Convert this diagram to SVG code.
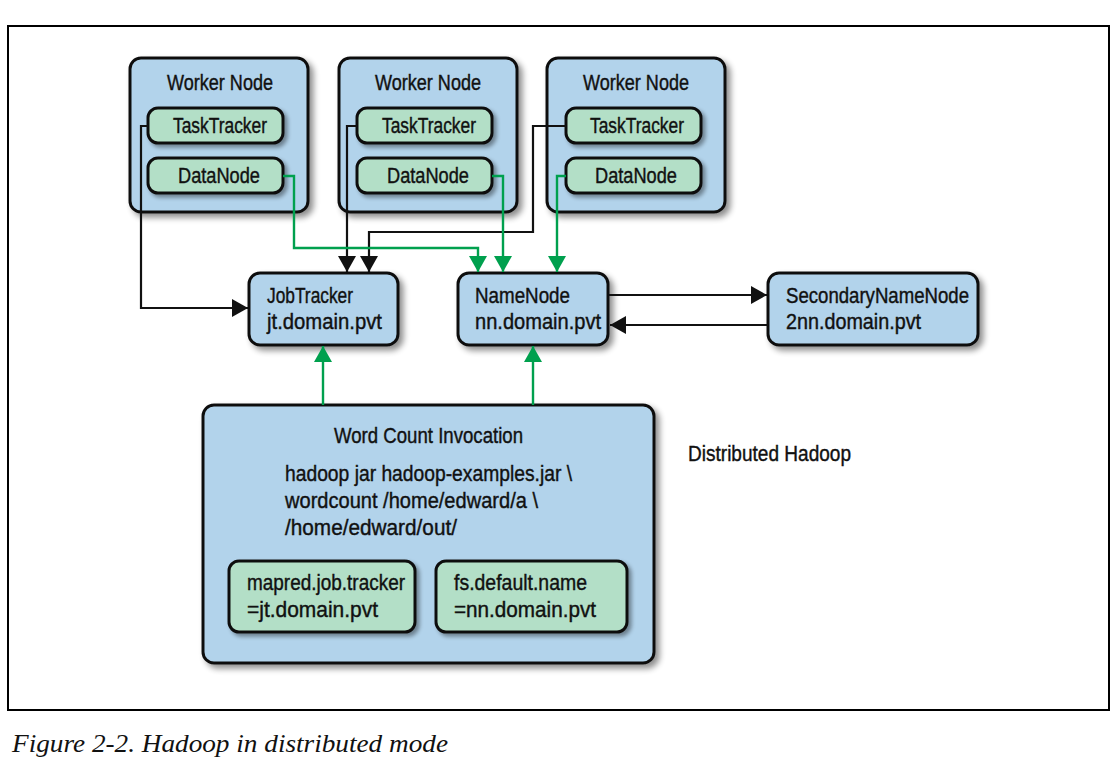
<svg xmlns="http://www.w3.org/2000/svg" width="1117" height="784" viewBox="0 0 1117 784">
<style>
.frame{fill:none;stroke:#000;stroke-width:2}
.blue{fill:#b2d3eb;stroke:#111;stroke-width:3;filter:url(#sh)}
.green{fill:#b3dfc7;stroke:#111;stroke-width:3;filter:url(#sh2)}
.t{font-family:"Liberation Sans",Arial,sans-serif;font-size:22px;fill:#111;stroke:#111;stroke-width:0.4}
.b{stroke:#111;stroke-width:2.2;fill:none}
.g{stroke:#00a04e;stroke-width:2.4;fill:none}
.cap{font-family:"Liberation Serif","Times New Roman",serif;font-style:italic;font-size:25px;fill:#111}
</style>
<defs>
<filter id="sh" x="-10%" y="-10%" width="130%" height="130%">
<feGaussianBlur in="SourceAlpha" stdDeviation="3"/>
<feOffset dx="4" dy="4" result="o"/>
<feComponentTransfer><feFuncA type="linear" slope="0.45"/></feComponentTransfer>
<feMerge><feMergeNode/><feMergeNode in="SourceGraphic"/></feMerge>
</filter>
<filter id="sh2" x="-10%" y="-20%" width="130%" height="150%">
<feGaussianBlur in="SourceAlpha" stdDeviation="2"/>
<feOffset dx="3" dy="3" result="o"/>
<feComponentTransfer><feFuncA type="linear" slope="0.4"/></feComponentTransfer>
<feMerge><feMergeNode/><feMergeNode in="SourceGraphic"/></feMerge>
</filter>
<marker id="ab" markerWidth="17" markerHeight="18" viewBox="0 0 17 18" refX="16" refY="9" orient="auto" markerUnits="userSpaceOnUse">
<path d="M0,0 L16,9 L0,18 Z" fill="#111"/>
</marker>
<marker id="ag" markerWidth="17" markerHeight="18" viewBox="0 0 17 18" refX="16" refY="9" orient="auto" markerUnits="userSpaceOnUse">
<path d="M0,0 L16,9 L0,18 Z" fill="#00a04e"/>
</marker>
</defs>
<rect width="1117" height="784" fill="#fff"/>
<rect class="frame" x="8" y="26" width="1101" height="684"/>

<g id="worker1">
<rect class="blue" x="130" y="58" width="178" height="154" rx="11"/>
<text class="t" x="167" y="90" textLength="106" lengthAdjust="spacingAndGlyphs">Worker Node</text>
<g id="tasktracker1"><rect class="green" x="148" y="108" width="135" height="35" rx="10"/>
<text class="t" x="173" y="133" textLength="94" lengthAdjust="spacingAndGlyphs">TaskTracker</text></g>
<g id="datanode1"><rect class="green" x="148" y="158" width="135" height="35" rx="10"/>
<text class="t" x="178" y="183" textLength="82" lengthAdjust="spacingAndGlyphs">DataNode</text></g>
</g>

<g id="worker2">
<rect class="blue" x="339" y="58" width="178" height="154" rx="11"/>
<text class="t" x="375" y="90" textLength="106" lengthAdjust="spacingAndGlyphs">Worker Node</text>
<g id="tasktracker2"><rect class="green" x="357" y="108" width="135" height="35" rx="10"/>
<text class="t" x="382" y="133" textLength="94" lengthAdjust="spacingAndGlyphs">TaskTracker</text></g>
<g id="datanode2"><rect class="green" x="357" y="158" width="135" height="35" rx="10"/>
<text class="t" x="387" y="183" textLength="82" lengthAdjust="spacingAndGlyphs">DataNode</text></g>
</g>

<g id="worker3">
<rect class="blue" x="547" y="58" width="178" height="154" rx="11"/>
<text class="t" x="583" y="90" textLength="106" lengthAdjust="spacingAndGlyphs">Worker Node</text>
<g id="tasktracker3"><rect class="green" x="566" y="108" width="135" height="35" rx="10"/>
<text class="t" x="590" y="133" textLength="94" lengthAdjust="spacingAndGlyphs">TaskTracker</text></g>
<g id="datanode3"><rect class="green" x="566" y="158" width="135" height="35" rx="10"/>
<text class="t" x="595" y="183" textLength="82" lengthAdjust="spacingAndGlyphs">DataNode</text></g>
</g>

<g id="jobtracker">
<rect class="blue" x="249" y="273" width="149" height="72" rx="11"/>
<text class="t" x="267" y="303" textLength="86" lengthAdjust="spacingAndGlyphs">JobTracker</text>
<text class="t" x="267" y="329" textLength="115" lengthAdjust="spacingAndGlyphs">jt.domain.pvt</text>
</g>

<g id="namenode">
<rect class="blue" x="458" y="273" width="150" height="72" rx="11"/>
<text class="t" x="475" y="303" textLength="95" lengthAdjust="spacingAndGlyphs">NameNode</text>
<text class="t" x="475" y="329" textLength="126" lengthAdjust="spacingAndGlyphs">nn.domain.pvt</text>
</g>

<g id="secondarynamenode">
<rect class="blue" x="768" y="273" width="210" height="72" rx="11"/>
<text class="t" x="786" y="303" textLength="183" lengthAdjust="spacingAndGlyphs">SecondaryNameNode</text>
<text class="t" x="786" y="329" textLength="135" lengthAdjust="spacingAndGlyphs">2nn.domain.pvt</text>
</g>

<g id="wordcount">
<rect class="blue" x="203" y="405" width="451" height="258" rx="11"/>
<text class="t" x="334" y="443" textLength="189" lengthAdjust="spacingAndGlyphs">Word Count Invocation</text>
<text class="t" x="285" y="481" textLength="287" lengthAdjust="spacingAndGlyphs">hadoop jar hadoop-examples.jar \</text>
<text class="t" x="285" y="508" textLength="253" lengthAdjust="spacingAndGlyphs">wordcount /home/edward/a \</text>
<text class="t" x="285" y="535" textLength="172" lengthAdjust="spacingAndGlyphs">/home/edward/out/</text>
<g id="mapred"><rect class="green" x="229" y="561" width="186" height="71" rx="10"/>
<text class="t" x="247" y="590" textLength="158" lengthAdjust="spacingAndGlyphs">mapred.job.tracker</text>
<text class="t" x="247" y="617" textLength="131" lengthAdjust="spacingAndGlyphs">=jt.domain.pvt</text></g>
<g id="fsdefault"><rect class="green" x="436" y="561" width="191" height="71" rx="10"/>
<text class="t" x="454" y="590" textLength="133" lengthAdjust="spacingAndGlyphs">fs.default.name</text>
<text class="t" x="454" y="617" textLength="142" lengthAdjust="spacingAndGlyphs">=nn.domain.pvt</text></g>
</g>

<g id="label">
<text class="t" x="688" y="461" font-size="22" textLength="163" lengthAdjust="spacingAndGlyphs">Distributed Hadoop</text>
</g>

<g id="connectors">
<path class="b" d="M148,126 H141 V308 H248" marker-end="url(#ab)"/>
<path class="b" d="M357,126 H347 V272" marker-end="url(#ab)"/>
<path class="b" d="M566,126 H533 V232 H369 V272" marker-end="url(#ab)"/>
<path class="b" d="M609,295 H767" marker-end="url(#ab)"/>
<path class="b" d="M768,325 H610" marker-end="url(#ab)"/>
<path class="g" d="M283,176 H294 V248 H478 V272" marker-end="url(#ag)"/>
<path class="g" d="M492,176 H503 V272" marker-end="url(#ag)"/>
<path class="g" d="M566,176 H557 V272" marker-end="url(#ag)"/>
<path class="g" d="M323,405 V346" marker-end="url(#ag)"/>
<path class="g" d="M533,405 V346" marker-end="url(#ag)"/>
</g>

<text class="cap" x="12" y="752" textLength="436" lengthAdjust="spacingAndGlyphs">Figure 2-2. Hadoop in distributed mode</text>
</svg>
